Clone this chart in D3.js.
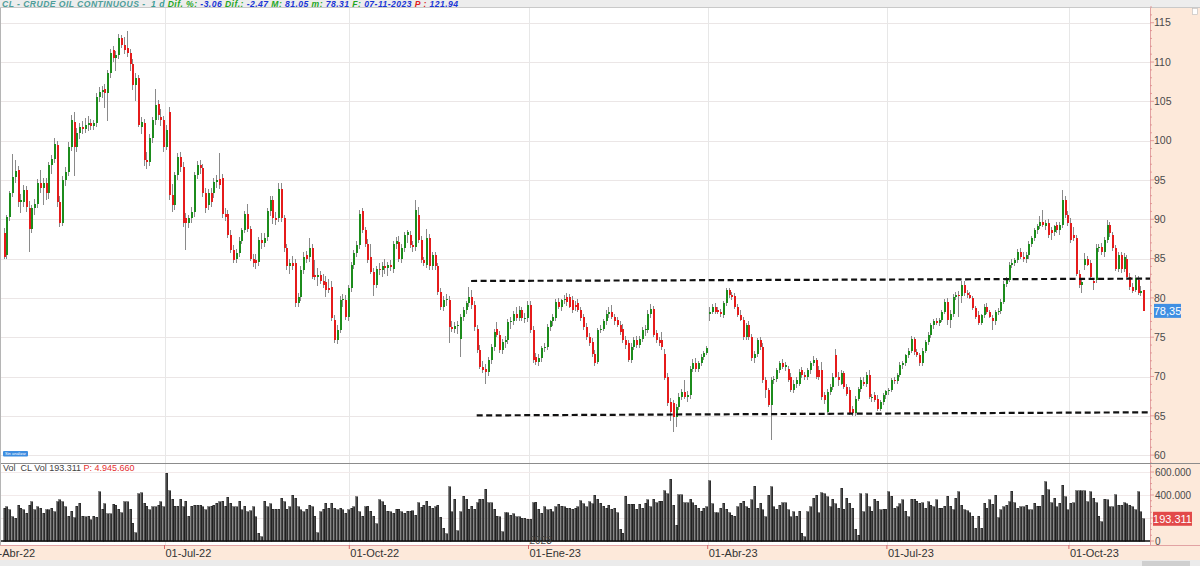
<!DOCTYPE html>
<html><head><meta charset="utf-8">
<script src="https://cdn.jsdelivr.net/npm/d3@7"></script>
<style>html,body{margin:0;padding:0;background:#fff;overflow:hidden}svg{display:block;font-family:"Liberation Sans",Arial,sans-serif}</style>
</head><body><svg id="c" width="1200" height="566"></svg>
<script>
// ---------------- DATA ----------------
const calendarStart = "2022-04-01";
const firstBar = "2022-04-11";
const lastBar = "2023-11-07";
const closedDays = ["2022-04-15","2022-12-26","2023-01-02","2023-04-07"];
const monthTicks = ["2022-04-01","2022-07-01","2022-10-03","2023-01-03","2023-04-03","2023-07-03","2023-10-02"];
const monthNames = ["Ene","Feb","Mar","Abr","May","Jun","Jul","Ago","Sep","Oct","Nov","Dic"];
const priceTicks = [60,65,70,75,80,85,90,95,100,105,110,115];
const volumeTicks = [0,200,400,600];           // thousands of contracts
const resistanceLine = [[167,82.15],[409.5,82.45]];   // [bar index, price]
const supportLine = [[169,65.05],[409.5,65.45]];
const headerParts = [
  ["CL - CRUDE OIL CONTINUOUS - ", "#4f9e9a"], [" 1 d ", "#3a9c96"],
  ["Dif. %: ", "#1fa61f"], ["-3.06 ", "#1a35d6"], ["Dif.: ", "#1fa61f"], ["-2.47 ", "#1a35d6"],
  ["M: ", "#1fa61f"], ["81.05 ", "#1a35d6"], ["m: ", "#1fa61f"], ["78.31 ", "#1a35d6"],
  ["F: ", "#1fa61f"], ["07-11-2023 ", "#1a35d6"], ["P : ", "#e02020"], ["121.94", "#1a35d6"]
];
const volumeTitle = ["Vol  CL Vol 193.311 ", "P: 4.945.660"];

// [open, high, low, close]
const ohlc = [
[88.2,88.9,84.9,85.2],[85.4,90.6,85.0,90.3],[90.3,93.6,89.8,93.3],[93.3,98.3,92.8,95.4],[95.4,97.5,94.6,96.2],
[96.3,96.8,91.5,92.2],[92.2,93.2,90.8,92.4],[92.2,94.4,91.6,93.7],[93.7,94.2,90.9,91.6],[91.4,92.3,85.9,88.8],
[88.8,91.8,88.2,91.4],[91.4,92.6,90.6,92.0],[92.0,95.1,91.4,94.6],[94.6,96.3,93.4,94.0],[94.0,95.3,91.8,94.6],
[94.6,95.2,92.5,93.3],[93.3,97.3,92.6,96.9],[96.9,98.2,95.8,97.7],[97.7,100.4,97.1,99.6],[99.4,99.9,91.6,92.2],
[92.2,93.0,89.0,89.5],[89.5,95.5,89.1,95.0],[95.0,96.6,94.2,96.0],[96.0,99.8,95.5,99.2],[99.2,103.3,98.7,102.6],
[102.4,103.7,95.5,99.2],[99.2,101.6,98.6,101.0],[101.0,102.3,100.2,101.8],[101.8,102.5,100.9,101.5],[101.5,102.9,101.0,102.0],
[102.0,103.1,101.2,102.2],[102.2,102.8,101.4,101.9],[101.9,102.6,101.3,102.3],[102.3,106.0,101.8,105.6],[105.6,106.8,104.9,106.2],
[106.2,107.0,105.4,106.4],[106.6,107.2,104.2,106.0],[106.0,109.0,102.5,108.6],[108.6,111.6,108.0,111.1],[111.5,112.0,110.0,110.5],
[110.5,111.4,108.9,110.9],[110.9,113.6,110.4,113.0],[113.0,113.4,111.8,112.2],[112.2,113.2,111.0,111.5],[111.8,114.0,110.6,111.1],
[111.2,111.6,108.8,109.8],[109.8,110.4,106.5,107.1],[107.1,108.6,105.0,108.0],[108.0,108.4,101.7,102.0],[101.8,103.0,100.8,102.4],
[102.2,102.8,96.8,97.6],[97.6,98.5,96.4,97.3],[97.3,100.8,96.8,100.3],[100.3,103.0,99.7,102.6],[102.6,106.6,102.0,104.5],
[104.7,105.2,102.6,103.3],[103.0,104.0,101.9,102.6],[102.6,103.1,98.6,99.2],[99.2,102.0,98.8,101.4],[103.7,104.3,92.5,93.1],
[93.1,94.5,90.9,91.8],[91.8,96.0,91.2,95.6],[95.6,98.4,95.0,97.9],[97.9,98.6,96.0,96.7],[96.7,97.3,89.0,89.5],
[90.1,90.8,86.1,89.5],[89.5,90.6,88.9,90.1],[90.1,91.5,89.5,90.9],[90.9,96.0,90.3,95.6],[95.6,97.4,95.1,96.9],
[96.9,97.6,95.8,96.5],[96.5,97.0,92.8,93.3],[93.3,94.0,90.8,91.4],[91.8,93.8,91.2,93.3],[93.3,94.0,91.6,92.2],
[93.3,95.3,92.7,94.8],[94.8,95.6,94.0,95.0],[95.1,98.4,93.9,94.3],[95.2,95.7,90.2,90.7],[90.7,91.4,89.8,90.3],
[90.7,91.2,87.6,88.0],[88.0,88.6,85.7,86.1],[86.1,86.7,84.4,84.8],[84.9,86.2,84.4,85.7],[85.7,87.7,85.2,87.3],
[87.3,88.9,86.8,88.6],[88.6,91.1,88.2,90.7],[90.7,92.0,88.4,88.8],[88.8,89.2,84.7,85.0],[85.0,85.6,83.9,84.4],
[84.8,85.6,83.7,84.5],[84.6,87.8,84.1,87.4],[87.4,88.3,86.2,87.0],[87.0,88.2,86.5,87.6],[87.8,91.4,87.2,91.0],
[91.0,93.0,90.4,92.4],[92.4,92.9,89.4,90.1],[90.1,90.9,89.3,89.9],[90.1,94.6,89.7,93.9],[93.9,94.6,89.6,90.1],
[90.1,90.6,85.8,86.3],[86.3,86.9,83.5,84.0],[84.0,85.0,83.1,84.4],[84.4,85.3,83.6,84.0],[84.4,85.0,78.8,79.3],
[79.3,80.6,78.9,80.1],[80.1,84.0,79.6,83.5],[83.5,85.8,83.0,85.2],[85.4,86.0,84.5,85.0],[85.2,87.6,84.6,86.3],
[86.3,86.9,82.4,82.7],[82.9,84.8,82.3,82.7],[82.7,83.8,81.5,82.9],[82.9,83.4,81.8,82.2],[82.2,83.0,81.2,81.6],
[82.0,82.8,80.1,81.0],[81.3,82.4,80.6,81.0],[81.4,82.2,77.0,77.4],[77.2,77.8,74.2,74.6],[74.6,76.5,74.1,75.9],
[75.9,80.2,75.5,79.7],[79.7,80.5,78.8,79.9],[79.7,80.4,77.2,77.6],[77.6,81.6,77.0,81.2],[81.2,84.6,80.7,84.2],
[84.2,86.1,83.7,85.7],[85.7,87.2,85.2,86.7],[86.7,91.2,86.2,90.7],
[91.0,91.4,88.2,88.6],[88.6,89.0,86.5,86.9],[86.9,87.5,84.4,84.8],[85.2,86.9,83.0,83.3],[83.3,83.8,80.2,81.6],
[81.6,84.0,81.2,83.7],[83.7,84.4,82.9,83.5],[83.5,84.6,82.6,84.0],[84.0,84.9,83.1,83.8],[83.8,84.6,82.8,84.2],
[84.2,84.8,83.4,83.9],[83.7,87.2,83.2,86.9],[86.9,87.8,86.2,87.3],[87.1,87.9,84.6,85.0],[85.0,86.9,84.5,86.3],
[86.3,88.4,85.9,88.0],[88.0,88.6,87.0,88.4],[88.0,88.5,86.3,86.7],[86.7,87.3,85.9,86.5],[86.5,92.4,86.0,91.2],
[90.5,91.6,87.0,87.4],[87.4,87.9,84.4,84.8],[84.8,85.2,84.0,84.4],[84.2,88.8,83.8,87.6],[87.6,88.1,83.6,84.0],
[84.0,85.8,83.5,85.4],[85.4,85.9,83.6,84.0],[84.0,84.5,80.4,80.8],[80.8,81.3,78.5,78.9],[78.9,80.2,78.3,79.7],
[79.7,80.5,79.0,79.9],[79.7,80.3,74.2,76.3],[76.3,77.0,75.6,76.1],[76.1,76.9,75.5,76.4],[76.4,77.0,75.4,76.6],
[74.8,78.0,72.5,77.6],[77.6,78.8,77.1,78.4],[78.4,79.6,78.0,79.3],[79.3,81.4,78.8,80.1],[80.1,81.0,78.6,79.1],
[79.1,79.6,75.8,76.3],[76.1,76.5,73.0,73.4],[73.4,74.0,70.9,71.2],[71.2,72.0,70.4,70.8],[71.0,71.6,69.1,70.6],
[70.6,72.5,70.1,72.1],[72.1,74.1,71.6,73.8],[73.8,76.1,73.2,75.7],[76.1,76.9,75.0,75.3],[75.3,75.8,73.0,73.4],
[73.4,74.8,72.9,74.4],[74.4,75.1,73.6,74.6],[74.6,77.3,74.1,76.9],[76.9,77.6,76.0,77.0],[77.0,78.3,76.5,78.0],
[78.0,78.9,77.0,77.4],[77.4,79.0,77.0,78.4],[78.4,78.9,77.0,77.4],[77.4,78.1,76.8,77.5],[77.4,79.6,76.9,79.1],
[79.1,79.6,75.5,75.9],[75.9,76.4,71.7,72.1],[72.5,73.0,71.5,71.9],[71.9,72.9,71.3,72.3],[72.3,73.9,71.9,73.6],
[73.6,74.3,73.1,73.8],[73.8,76.7,73.4,76.3],[76.3,77.2,75.8,77.0],[77.0,78.0,76.4,77.6],[77.4,79.8,77.0,79.5],
[79.5,80.0,78.6,78.9],[78.9,79.9,78.3,79.7],[79.7,80.4,79.2,79.9],[80.1,80.6,79.0,79.5],[80.1,80.5,78.7,78.9],
[79.7,80.2,78.1,78.4],[79.1,79.6,78.3,78.9],[79.3,79.8,78.2,78.4],[78.4,78.9,77.1,77.4],[77.6,78.0,75.9,76.3],
[76.3,76.8,74.6,75.0],[75.0,75.5,73.9,74.2],[74.4,74.9,72.5,72.9],[72.9,73.4,71.3,71.7],
[71.9,76.2,71.6,75.9],[75.9,76.6,75.5,76.1],[76.1,77.3,75.8,77.0],[77.0,78.5,76.6,78.0],[78.0,78.9,77.5,78.2],
[78.2,79.1,77.3,77.6],[77.6,78.0,76.6,77.0],[77.2,77.6,76.3,76.6],[76.5,77.0,75.3,75.7],[76.1,76.7,74.3,74.6],
[74.6,75.2,73.5,74.0],[74.2,74.6,71.8,72.1],[72.1,74.2,71.7,73.8],[73.8,75.0,73.4,74.6],[74.6,75.1,73.6,74.0],
[74.0,75.2,73.6,74.8],[74.8,76.3,74.4,75.9],[75.9,76.5,75.2,76.1],[75.9,78.4,75.5,78.0],[78.0,79.2,77.5,78.6],
[78.6,79.0,75.0,75.3],[75.5,75.9,74.2,74.6],[74.6,75.0,73.9,74.2],[74.6,75.6,73.4,73.8],[72.9,73.5,69.5,69.8],
[70.0,70.5,66.2,66.6],[66.8,67.3,64.4,65.5],[66.6,67.0,63.0,64.9],[64.9,66.5,63.6,66.1],[66.1,67.9,65.7,67.4],
[67.4,68.4,67.0,68.0],[68.0,69.5,67.1,67.4],[67.4,68.1,66.8,67.6],[67.6,71.4,67.2,71.0],[71.0,72.2,70.6,71.7],
[71.7,72.3,70.6,71.0],[71.0,72.0,70.6,71.7],[71.7,72.9,71.3,72.5],[72.5,73.3,72.1,73.0],[73.0,73.9,72.8,73.6],
[78.0,78.9,77.0,78.2],[78.2,79.2,77.9,78.9],[78.9,79.3,77.9,78.2],[78.4,78.8,77.9,78.2],[78.2,78.6,77.6,78.0],
[77.8,79.6,77.5,79.3],[79.3,81.3,79.0,81.0],[81.0,81.2,80.0,80.4],[80.4,80.8,79.7,80.1],[80.3,80.6,78.6,78.9],
[78.9,79.2,77.6,77.8],[77.8,78.4,77.0,77.2],[77.2,77.6,74.7,75.0],[75.0,76.8,74.6,76.5],[76.5,77.1,74.7,75.0],
[75.0,75.4,72.0,72.3],[72.3,73.3,71.7,72.9],[72.9,74.9,72.5,74.6],[74.6,75.0,73.4,73.8],[73.8,74.2,69.2,69.5],
[69.5,69.9,67.3,68.3],[68.3,68.6,66.1,66.4],[66.4,69.9,61.9,69.5],[69.5,70.1,69.0,69.7],[69.7,71.1,69.3,70.8],
[70.8,72.0,70.4,71.7],[71.7,72.2,70.9,71.2],[71.2,71.9,70.7,71.5],[71.0,71.4,69.3,69.5],
[70.0,70.4,68.0,68.3],[68.3,69.5,67.9,69.1],[69.1,70.0,68.6,69.5],[69.1,71.0,68.8,70.6],[70.8,71.2,69.8,70.2],
[70.2,70.6,69.5,70.0],[70.0,71.1,69.6,70.8],[70.8,72.0,70.3,71.7],[71.7,72.6,71.3,72.1],[72.1,72.4,69.7,70.0],
[70.8,71.4,69.6,70.0],[70.8,71.8,67.0,67.4],[67.6,68.0,66.5,67.0],[65.5,68.4,65.1,68.0],[68.0,69.0,67.6,68.7],
[68.7,70.5,68.3,70.0],[72.7,73.5,69.8,70.0],[70.0,70.6,68.8,69.5],[69.1,70.8,68.9,70.4],[70.4,70.7,68.4,68.7],
[68.7,69.1,67.5,67.8],[68.3,68.7,65.1,65.3],[65.9,66.3,65.0,65.3],[65.3,67.5,65.0,67.2],[67.2,68.7,66.9,68.4],
[68.4,69.9,68.0,69.5],[69.3,70.0,68.8,69.0],[69.1,70.6,68.7,70.2],[70.2,70.8,67.1,67.4],[67.4,67.8,66.7,67.4],
[67.6,68.0,66.7,67.0],[67.2,67.6,65.6,65.9],[65.9,67.0,65.6,66.8],[66.8,67.9,66.4,67.6],[67.6,68.3,67.2,68.1],
[68.1,68.6,67.7,68.3],[68.3,69.8,68.0,69.5],[69.5,70.0,69.0,69.4],[69.4,70.5,69.1,70.2],[70.2,71.8,69.9,71.5],
[71.5,72.0,71.0,71.7],[71.7,72.9,71.4,72.7],[72.7,73.6,72.3,73.3],[73.3,75.1,73.0,74.8],[74.8,75.0,72.8,73.1],
[73.1,73.5,72.5,72.7],[72.7,73.0,71.4,71.7],[71.7,73.6,71.4,73.3],[73.3,74.7,73.0,74.4],[74.4,75.6,74.0,75.3],
[75.3,76.8,74.9,76.5],[76.5,77.3,76.1,77.0],[77.0,77.4,76.6,76.8],[76.8,77.5,76.4,77.2],[77.2,78.5,76.9,78.2],
[78.2,79.8,77.9,79.5],[79.5,80.0,76.5,77.2],[77.2,78.5,76.2,78.0],[78.0,80.5,77.6,80.1],[80.1,80.7,79.7,80.4],
[80.4,80.9,77.6,80.2],[80.2,82.1,79.3,81.6],[81.6,82.2,80.3,80.6],[80.6,81.0,80.0,80.4],[80.4,80.8,79.8,80.0],
[80.0,80.3,78.5,78.7],
[78.7,79.0,77.3,77.6],[77.8,78.3,76.5,76.8],[76.8,78.0,76.6,77.8],[77.8,79.2,77.5,78.9],[78.9,79.3,78.0,78.2],
[78.2,78.5,77.4,77.6],[77.4,77.8,75.9,77.0],[77.0,78.4,76.6,78.2],[78.2,78.7,77.8,78.3],[78.3,79.8,78.0,79.5],
[79.5,82.1,79.2,81.8],[81.8,82.6,81.4,82.3],[82.3,84.6,82.0,84.2],[84.2,84.9,83.8,84.4],[84.4,85.1,84.0,84.8],
[84.8,86.2,84.4,85.9],[85.9,86.3,85.0,85.2],[85.2,85.9,84.6,85.0],[85.0,85.8,84.4,85.4],[85.4,87.2,85.0,86.9],
[86.9,87.9,86.5,87.6],[87.6,88.9,87.2,88.6],[88.6,89.4,88.1,89.1],[89.1,90.4,88.7,89.7],[89.7,91.2,89.0,89.3],
[89.1,89.9,88.6,89.5],[89.5,90.0,87.6,88.0],[88.6,89.0,87.4,88.2],[88.4,89.3,87.9,89.1],[89.3,89.7,88.3,88.6],
[88.6,89.6,88.0,89.3],[89.3,93.7,88.9,92.4],[92.4,92.9,90.1,90.5],[90.5,91.0,89.1,89.5],[89.5,90.2,87.0,87.4],
[88.0,89.0,87.3,87.6],[87.6,88.0,82.8,83.1],[83.1,83.5,81.2,81.6],[81.6,82.3,80.6,82.0],[84.2,85.7,83.6,85.0],
[85.0,85.3,84.0,84.2],[84.4,84.8,82.4,82.7],[82.1,82.5,81.0,81.9],[82.3,86.8,81.9,86.3],[86.3,86.9,85.8,86.5],
[86.5,87.0,85.5,85.9],[85.9,87.8,85.2,87.4],[87.4,89.9,87.0,89.3],[89.3,89.6,87.8,88.2],[88.0,88.4,86.0,86.3],
[86.3,86.7,83.4,83.7],[83.7,85.8,83.3,85.4],[85.4,85.9,83.2,83.7],[83.7,85.7,83.3,85.2],[85.0,85.5,82.3,82.7],
[82.7,83.2,81.0,81.4],[81.4,81.9,80.6,80.9],[81.0,82.9,80.7,82.5],[82.3,82.8,80.4,80.6],[80.6,81.5,80.2,80.82],
[81.0,81.05,78.31,78.35]
];

// volume, thousands of contracts
const volumes = [
284,299,270,212,197,313,284,270,241,313, 342,270,299,284,241,270,270,284,255,
342,357,342,299,217,261,203,304,327,217, 212,217,183,217,206,429,275,322,235,235,
319,313,275,246,342,342,275,154,72, 413,420,327,304,270,299,299,313,342,299,
589,438,362,304,304,365,299,348,217,304, 313,313,313,299,270,299,304,313,327,342,
348,304,380,327,299,299,348,270,304, 255,264,299,212,67,38,348,299,322,275,
275,275,371,342,275,299,400,371,299,270, 255,275,313,299,217,72,255,275,327,284,
327,284,270,284,270,241,270,284,299, 385,255,217,299,304,261,217,148,357,342,
313,261,255,241,275,275,
255,241,261,261,264,226,333,293,313,348, 304,284,299,313,206,110,61,473,255,
362,90,255,391,362,275,304,275,333,362, 362,449,333,333,275,217,212,81,246,
246,226,235,212,212,197,197,191,188,333, 339,275,241,299,270,278,255,299,319,
304,299,284,284,275,284,299,351,322,299, 342,322,400,362,327,304,284,313,275,
284,246,101,67,391,319,319,319,275,319, 284,327,357,299,362,333,348,348,438,
413,537,313,139,404,404,333,333,362,333, 313,284,261,284,299,525,322,246,246,
284,327,275,246,226,217,299,327,348,299, 284,357,478,284,327,270,212,400,473,
299,275,313,333,333,270,212,255,217,261,
67,38,255,299,371,400,246,420,413,385, 299,362,322,284,458,275,371,327,284,
101,52,413,255,413,299,261,362,348,270, 275,275,429,391,284,299,322,357,261,
212,362,362,348,327,333,284,342,313,299, 357,284,284,304,391,304,270,371,429,
313,270,264,246,217,110,217,110,327,284, 357,319,400,203,270,299,313,342,435,
333,284,299,299,313,270,270,327,304,304, 400,516,444,333,371,299,327,487,385,
270,327,333,438,438,438,438,342,429,371, 333,217,168,362,357,299,299,404,313,
313,333,322,313,299,270,429,255,193.311
];

// ---------------- LAYOUT ----------------
const W = 1200, H = 566;
const plotRight = 1150;
const mainTop = 7, mainBottom = 463;
const volTop = 464, volBase = 541, volBottom = 545;
const GREEN = "#1c8c1c", RED = "#e51b1b";

const parse = d3.utcParse("%Y-%m-%d"), fmt = d3.utcFormat("%Y-%m-%d");
const allDays = [];
for (let d = parse(calendarStart); d <= parse(lastBar); d = d3.utcDay.offset(d, 1)) {
  const wd = d.getUTCDay(), s = fmt(d);
  if (wd === 0 || wd === 6 || closedDays.includes(s)) continue;
  allDays.push(s);
}
const offset = allDays.indexOf(firstBar);
const dates = allDays.slice(offset);
const n = ohlc.length;
const bars = ohlc.map((r, i) => ({i, date: dates[dates.length - n + i], o:r[0], h:r[1], l:r[2], c:r[3], v: volumes[volumes.length - n + i]}));

const x = d3.scaleLinear().domain([0, n - 1]).range([3.5, 1143.1]);
const step = x(1) - x(0);
const y = d3.scaleLinear().domain([59, 117]).range([mainBottom, mainTop]);
const yv = d3.scaleLinear().domain([0, 670]).range([volBase, volTop]);
const idxOf = s => allDays.indexOf(s) - offset - (dates.length - n);

const svg = d3.select("#c");
svg.append("rect").attr("width", W).attr("height", H).attr("fill", "#fff");

// header
svg.append("rect").attr("x",0).attr("y",0).attr("width",W).attr("height",7.5).attr("fill","#ededed");
svg.append("line").attr("x1",0).attr("x2",W).attr("y1",7.5).attr("y2",7.5).attr("stroke","#c9c9c9");
const ht = svg.append("text").attr("x",2).attr("y",7).attr("font-size",8.6).attr("font-weight","bold")
  .attr("font-style","italic").attr("textLength",456).attr("lengthAdjust","spacing");
headerParts.forEach(([t,c]) => ht.append("tspan").attr("fill",c).attr("xml:space","preserve").text(t));

// grids
const grid = svg.append("g").attr("shape-rendering","crispEdges");
grid.selectAll(".hg").data(priceTicks).join("line")
  .attr("x1",1).attr("x2",plotRight).attr("y1",d=>Math.round(y(d))+0.5).attr("y2",d=>Math.round(y(d))+0.5)
  .attr("stroke","#ebe6e6");
const monthX = monthTicks.map(s => ({s, x: x(idxOf(s)) - step/2}));
grid.selectAll(".vg").data(monthX.filter(d=>d.x>0)).join("line")
  .attr("x1",d=>Math.round(d.x)+0.5).attr("x2",d=>Math.round(d.x)+0.5)
  .attr("y1",mainTop+1).attr("y2",volBottom).attr("stroke","#e7e7e7");
grid.selectAll(".vvg").data(volumeTicks.slice(1)).join("line")
  .attr("x1",1).attr("x2",plotRight).attr("y1",d=>Math.round(yv(d))+0.5).attr("y2",d=>Math.round(yv(d))+0.5)
  .attr("stroke","#f2eaea");

// candles
const cg = svg.append("g").attr("shape-rendering","crispEdges");
cg.selectAll(".wick").data(bars).join("line")
  .attr("x1",d=>Math.round(x(d.i))+0.5).attr("x2",d=>Math.round(x(d.i))+0.5)
  .attr("y1",d=>y(d.h)).attr("y2",d=>y(d.l)).attr("stroke","#8a8a8a").attr("stroke-width",1);
cg.selectAll(".body").data(bars).join("rect")
  .attr("x",d=>Math.round(x(d.i))-0.5).attr("width",2)
  .attr("y",d=>y(Math.max(d.o,d.c)))
  .attr("height",d=>Math.max(1, Math.abs(y(d.o)-y(d.c))))
  .attr("fill",d=>d.c>=d.o?GREEN:RED);

// dashed support / resistance
[resistanceLine, supportLine].forEach(pts => {
  svg.append("line").attr("x1",x(pts[0][0])).attr("y1",y(pts[0][1]))
    .attr("x2",Math.min(plotRight,x(pts[1][0]))).attr("y2",y(pts[1][1]))
    .attr("stroke","#111").attr("stroke-width",2.2).attr("stroke-dasharray","6,3.5");
});

// "Sin analizar" tag
svg.append("rect").attr("x",3).attr("y",451).attr("width",25).attr("height",5.5).attr("rx",1).attr("fill","#3d8de0");
svg.append("text").attr("x",15.5).attr("y",455.3).attr("text-anchor","middle").attr("font-size",4).attr("fill","#fff").text("Sin analizar");

// right price axis panel
svg.append("rect").attr("x",plotRight).attr("y",8).attr("width",W-plotRight).attr("height",volBottom-8).attr("fill","#fde9da");
svg.append("line").attr("x1",plotRight+0.5).attr("x2",plotRight+0.5).attr("y1",8).attr("y2",volBottom)
  .attr("stroke","#e2a3a3").attr("shape-rendering","crispEdges");
const minor = d3.range(59, 117.01, 1);
svg.append("g").selectAll("line").data(minor).join("line")
  .attr("x1",plotRight).attr("x2",d=>plotRight + (d%5===0?4:2)).attr("y1",d=>y(d)).attr("y2",d=>y(d))
  .attr("stroke","#e08c8c").attr("stroke-width",0.8);
svg.append("g").selectAll("text").data(priceTicks).join("text")
  .attr("x",plotRight+4).attr("y",d=>y(d)).attr("dy","0.35em").attr("font-size",10.5).attr("fill","#4a4a4a").text(d=>d);
svg.append("rect").attr("x",1192.5).attr("y",8.5).attr("width",5).attr("height",6).attr("fill","#fff").attr("stroke","#bbb").attr("stroke-width",0.6);

// volume panel
const vg = svg.append("g").attr("shape-rendering","crispEdges");
vg.selectAll("rect").data(bars).join("rect")
  .attr("x",d=>Math.round(x(d.i))-0.5).attr("width",2)
  .attr("y",d=>yv(d.v)).attr("height",d=>volBase-yv(d.v))
  .attr("fill","#4a4a4a").attr("stroke","#111").attr("stroke-width",0.5);
svg.append("line").attr("x1",1).attr("x2",plotRight).attr("y1",volBase).attr("y2",volBase).attr("stroke","#111").attr("stroke-width",1.4);
svg.append("g").selectAll("line").data(d3.range(0,670,50)).join("line")
  .attr("x1",plotRight).attr("x2",d=>plotRight+(d%200===0?4:2)).attr("y1",d=>yv(d)).attr("y2",d=>yv(d))
  .attr("stroke","#e08c8c").attr("stroke-width",0.8);
svg.append("g").selectAll("text").data(volumeTicks).join("text")
  .attr("x",plotRight+5).attr("y",d=>yv(d)).attr("dy","0.35em").attr("font-size",10).attr("fill","#4a4a4a")
  .text(d=>d===0?"0":d3.format(".3f")(d));
const vt = svg.append("text").attr("x",3).attr("y",470.5).attr("font-size",9);
vt.append("tspan").attr("fill","#444").attr("xml:space","preserve").text(volumeTitle[0]);
vt.append("tspan").attr("fill","#e53030").text(volumeTitle[1]);

// panel separator
svg.append("line").attr("x1",0).attr("x2",W).attr("y1",463.5).attr("y2",463.5).attr("stroke","#8c8c8c").attr("shape-rendering","crispEdges");
svg.append("line").attr("x1",0.5).attr("x2",0.5).attr("y1",8).attr("y2",volBottom).attr("stroke","#b5b5b5").attr("shape-rendering","crispEdges");

// date axis
svg.append("rect").attr("x",0).attr("y",volBottom).attr("width",W).attr("height",15).attr("fill","#fde9da");
svg.append("line").attr("x1",0).attr("x2",W).attr("y1",volBottom+0.5).attr("y2",volBottom+0.5).attr("stroke","#e2a3a3").attr("shape-rendering","crispEdges");
const mlab = s => { const d = parse(s); return "01-" + monthNames[d.getUTCMonth()] + "-" + d3.utcFormat("%y")(d); };
svg.append("g").selectAll("line").data(monthX).join("line")
  .attr("x1",d=>d.x).attr("x2",d=>d.x).attr("y1",volBottom).attr("y2",volBottom+4).attr("stroke","#d96a6a");
svg.append("g").selectAll("text").data(monthX).join("text")
  .attr("x",d=>d.x+1).attr("y",volBottom+12).attr("font-size",11).attr("fill","#333").text(d=>mlab(d.s));
const yearTick = monthX.find(d => d.s.startsWith("2023-01"));
svg.append("text").attr("x",yearTick.x+1).attr("y",544).attr("font-size",10).attr("fill","#444").text("2023");

// value badges
const last = bars[n-1];
const by = y(last.c);
svg.append("rect").attr("x",1154).attr("y",by-7).attr("width",27).attr("height",14).attr("fill","#3f8fe3");
svg.append("text").attr("x",1167.5).attr("y",by).attr("dy","0.36em").attr("text-anchor","middle").attr("font-size",11).attr("fill","#fff")
  .text(d3.format(".2f")(last.c).replace(".",","));
const bvy = yv(last.v);
svg.append("rect").attr("x",1153).attr("y",bvy-7).attr("width",39).attr("height",14).attr("fill","#e24a4a");
svg.append("text").attr("x",1172.5).attr("y",bvy).attr("dy","0.36em").attr("text-anchor","middle").attr("font-size",11).attr("fill","#fff")
  .text(d3.format(".3f")(last.v));

// bottom strip
svg.append("rect").attr("x",0).attr("y",560).attr("width",W).attr("height",6).attr("fill","#ebebeb");
svg.append("rect").attr("x",1142).attr("y",561).attr("width",48).attr("height",5).attr("fill","#cfcfcf");
</script></body></html>
